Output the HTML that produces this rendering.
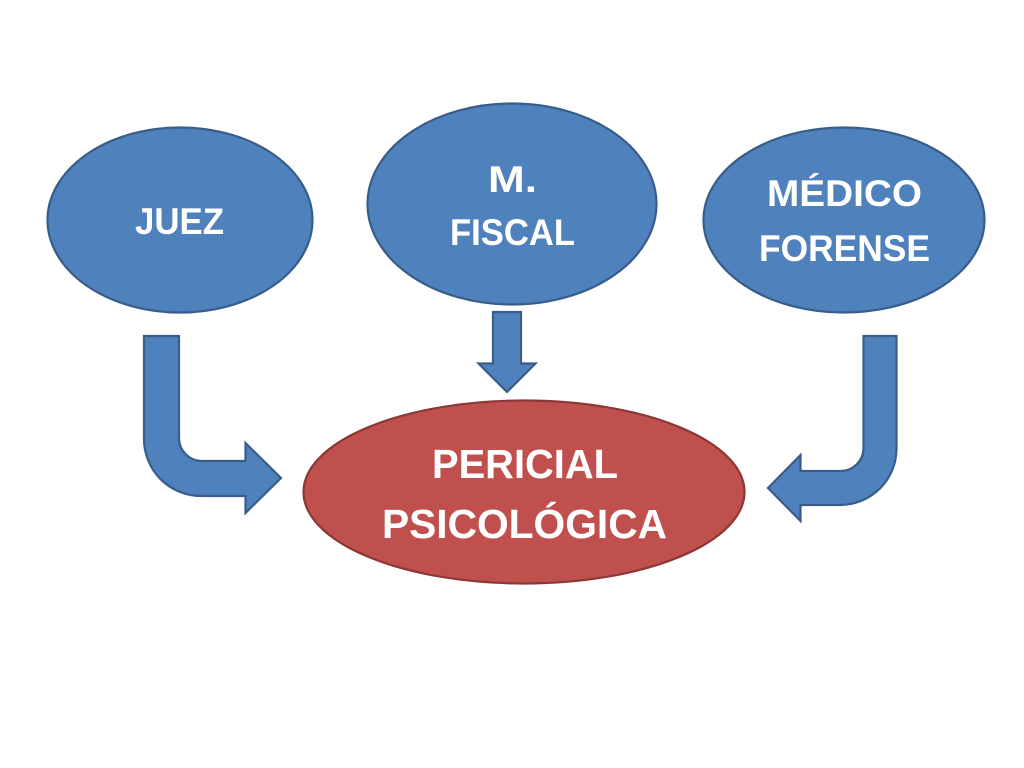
<!DOCTYPE html>
<html>
<head>
<meta charset="utf-8">
<title>Pericial psicológica</title>
<style>
html,body{margin:0;padding:0;background:#fff;width:1024px;height:768px;overflow:hidden}
svg{display:block}
text{font-family:"Liberation Sans",sans-serif;font-weight:bold;fill:#fff}
</style>
</head>
<body>
<svg width="1024" height="768" viewBox="0 0 1024 768" xmlns="http://www.w3.org/2000/svg">
<rect width="1024" height="768" fill="#fff"/>
<g fill="#4f81bd" stroke="#385d8a" stroke-width="2.2" stroke-linejoin="miter">
<ellipse cx="180" cy="220" rx="132.5" ry="92.5"/>
<ellipse cx="512" cy="204" rx="144.5" ry="100.5"/>
<ellipse cx="844" cy="220" rx="140.5" ry="92.5"/>
<path d="M144 336H179V438A23 23 0 0 0 202 461H245.500V443L281 478L245.500 513V496H201A57 57 0 0 1 144 439Z"/>
<path d="M493 312H521V363.500H535.500L507 392L478.500 363.500H493Z"/>
<path d="M896.500 336H863.500V448A23 23 0 0 1 840.500 471H800.500V455L768 488L800.500 521V505H840A56.500 56.500 0 0 0 896.500 448.500Z"/>
</g>
<ellipse cx="524" cy="492" rx="220.5" ry="91.5" fill="#c0504d" stroke="#8c3836" stroke-width="2.2"/>
<g font-size="37">
<text x="135" y="234" textLength="89" lengthAdjust="spacingAndGlyphs">JUEZ</text>
<text x="488" y="192" textLength="49" lengthAdjust="spacingAndGlyphs">M.</text>
<text x="450" y="245" textLength="125" lengthAdjust="spacingAndGlyphs">FISCAL</text>
<text x="767" y="206" textLength="155" lengthAdjust="spacingAndGlyphs">MÉDICO</text>
<text x="759" y="261" textLength="171" lengthAdjust="spacingAndGlyphs">FORENSE</text>
</g>
<g font-size="41">
<text x="432" y="478" textLength="186" lengthAdjust="spacingAndGlyphs">PERICIAL</text>
<text x="382" y="538" textLength="285" lengthAdjust="spacingAndGlyphs">PSICOLÓGICA</text>
</g>
</svg>
</body>
</html>
